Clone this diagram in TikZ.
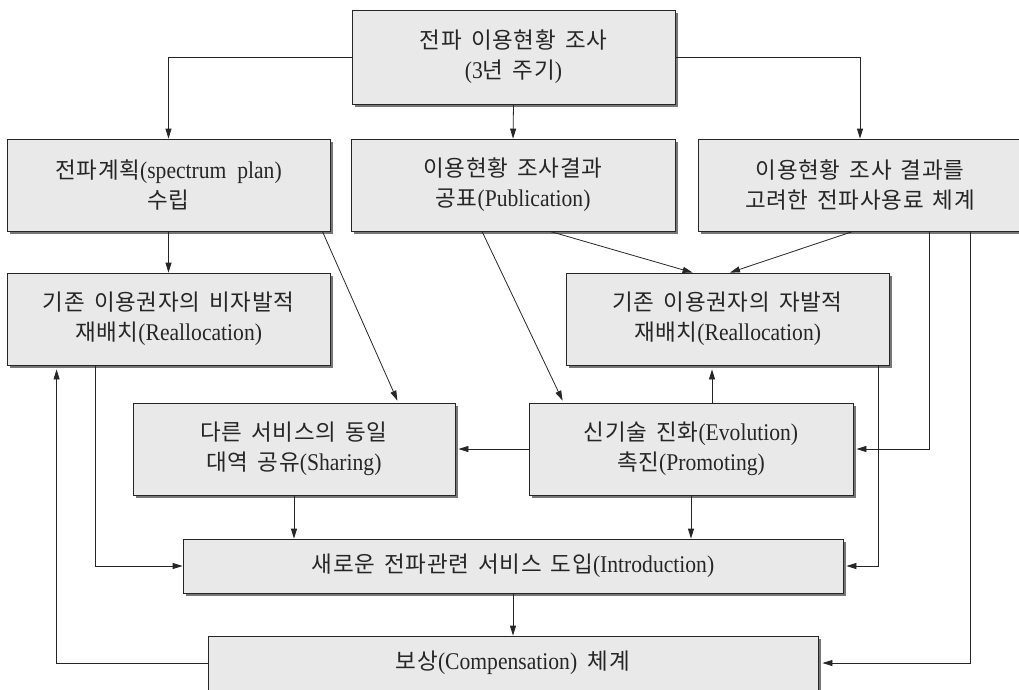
\documentclass[tikz,border=0pt]{standalone}
\usepackage{fontspec}
\setmainfont[FakeStretch=0.9]{Liberation Serif}
\newfontfamily\krfont[LetterSpace=3,WordSpace=1.6]{Noto Sans CJK KR}
\newcommand\K[1]{{\krfont\fontsize{22.5}{30}\selectfont #1}}
\usetikzlibrary{arrows.meta,calc,shadows}
\definecolor{boxfill}{HTML}{E9E9E9}
\definecolor{shadowgray}{HTML}{777777}

\begin{document}
\begin{tikzpicture}[x=1pt,y=-1pt,
  box/.style={draw=black!85, line width=0.8pt, fill=boxfill, rectangle,
    inner sep=0pt, align=center, text=black!85,
    font=\fontsize{24}{30}\selectfont,
    general shadow={fill=shadowgray, shadow xshift=3pt, shadow yshift=-3pt}},
  link/.style={draw=black!85, line width=0.8pt},
  arr/.style={link, -{Triangle[length=10pt,width=6pt]}},
]
\useasboundingbox (0,0) rectangle (1019,689);

% boxes
\node[box, minimum width=323pt, minimum height=94pt] (T) at (513.5,57)
  {\K{전파 이용현황 조사}\\(3\K{년 주기})};
\node[box, minimum width=323pt, minimum height=92pt] (P) at (168.5,185)
  {\K{전파계획}(spectrum\ \ plan)\\\K{수립}};
\node[box, minimum width=324pt, minimum height=92pt] (U) at (513,185)
  {\K{이용현황 조사결과}\\\K{공표}(Publication)};
\node[box, minimum width=324pt, minimum height=92pt] (F) at (860,185)
  {\K{이용현황 조사 결과를}\\\K{고려한 전파사용료 체계}};
\node[box, minimum width=323pt, minimum height=92pt] (N) at (168.5,319)
  {\K{기존 이용권자의 비자발적}\\\K{재배치}(Reallocation)};
\node[box, minimum width=323pt, minimum height=92pt] (V) at (727.5,319)
  {\K{기존 이용권자의 자발적}\\\K{재배치}(Reallocation)};
\node[box, minimum width=322pt, minimum height=92pt] (S) at (294,449)
  {\K{다른 서비스의 동일}\\\K{대역 공유}(Sharing)};
\node[box, minimum width=324pt, minimum height=92pt] (E) at (691,449)
  {\K{신기술 진화}(Evolution)\\\K{촉진}(Promoting)};
\node[box, minimum width=660pt, minimum height=54pt] (I) at (513,566)
  {\K{새로운 전파관련 서비스 도입}(Introduction)};
\node[box, minimum width=610pt, minimum height=54pt] (C) at (513,663)
  {\K{보상}(Compensation)\ \ \K{체계}};

% connectors
\draw[arr] (T.west) -| (P.north);
\draw[arr] (T.east) -| (F.north);
\draw[arr] (T.south) -- (U.north);
\draw[arr] (P.south) -- (N.north);
\draw[arr] ($(P.south east)+(-8,0)$) -- ($(S.north east)+(-58,-2)$);
\draw[arr] ($(U.south)+(-31,0)$) -- ($(E.north west)+(34,-2)$);
\draw[arr] ($(U.south)+(37,0)$) -- ($(V.north west)+(127,0)$);
\draw[arr] ($(F.south)+(-7,0)$) -- ($(V.north)+(2.5,0)$);
\draw[arr] ($(F.south)+(69,0)$) |- ($(E.east)+(3,0)$);
\draw[arr] ($(F.south)+(110,0)$) |- ($(C.east)+(4,0)$);
\draw[arr] ($(V.south east)+(-11,0)$) |- ($(I.east)+(3,0)$);
\draw[arr] ($(E.north)+(21,0)$) coordinate (eup) -- ($(eup |- V.south)+(0,4)$);
\draw[arr] (E.west) -- ($(S.east)+(3,0)$);
\draw[arr] (S.south) -- (S.south |- I.north);
\draw[arr] (E.south) -- (E.south |- I.north);
\draw[arr] ($(N.south west)+(89,0)$) |- (I.west);
\draw[arr] (C.west) -| ($(N.south west)+(50,4)$);
\draw[arr] (I.south) -- (C.north);
\end{tikzpicture}
\end{document}
